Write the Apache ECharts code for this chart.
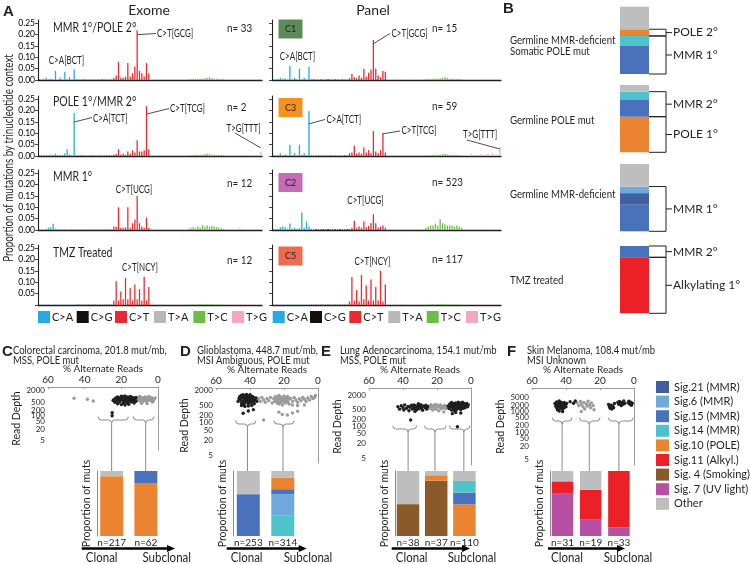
<!DOCTYPE html>
<html><head><meta charset="utf-8">
<script src="https://cdn.jsdelivr.net/npm/echarts@6/dist/echarts.min.js"></script>
<style>html,body{margin:0;padding:0;background:#fff}#c{width:750px;height:564px}</style>
</head><body><div id="c"></div>
<script>
// ---------------- DATA ----------------
const mutTypes = ['C>A','C>G','C>T','T>A','T>C','T>G'];
const bases = ['A','C','G','T'];
// 96 trinucleotide contexts (6 groups x 16)
const exomeMMR1POLE2 = [
 0.003,0.002,0.004,0.010, 0.003,0.005,0.002,0.040, 0.002,0.010,0.003,0.036, 0.003,0.012,0.002,0.046,
 0.001,0.001,0.001,0.002, 0.001,0.001,0.001,0.001, 0.001,0.001,0.001,0.002, 0.001,0.001,0.001,0.001,
 0.010,0.020,0.080,0.010, 0.010,0.015,0.075,0.015, 0.030,0.060,0.220,0.040, 0.030,0.015,0.075,0.030,
 0.002,0.001,0.001,0.002, 0.001,0.001,0.002,0.001, 0.002,0.001,0.001,0.001, 0.001,0.002,0.001,0.002,
 0.003,0.004,0.005,0.004, 0.005,0.006,0.005,0.008, 0.010,0.012,0.008,0.006, 0.005,0.004,0.003,0.003,
 0.001,0.001,0.002,0.001, 0.001,0.002,0.001,0.001, 0.002,0.001,0.001,0.003, 0.001,0.001,0.002,0.003];
const exomePOLE1MMR2 = [
 0.003,0.004,0.002,0.006, 0.003,0.005,0.004,0.010, 0.003,0.006,0.004,0.012, 0.030,0.008,0.004,0.190,
 0.001,0.001,0.002,0.001, 0.001,0.001,0.001,0.002, 0.001,0.001,0.001,0.001, 0.001,0.002,0.001,0.001,
 0.005,0.010,0.030,0.005, 0.010,0.005,0.020,0.010, 0.025,0.015,0.070,0.020, 0.020,0.025,0.220,0.030,
 0.001,0.002,0.001,0.001, 0.002,0.001,0.001,0.001, 0.001,0.002,0.001,0.001, 0.001,0.001,0.002,0.001,
 0.003,0.004,0.003,0.005, 0.004,0.006,0.005,0.008, 0.010,0.008,0.006,0.005, 0.004,0.005,0.003,0.003,
 0.002,0.001,0.003,0.002, 0.001,0.004,0.002,0.003, 0.002,0.006,0.002,0.003, 0.002,0.004,0.003,0.020];
const exomeMMR1 = [
 0.002,0.003,0.002,0.006, 0.010,0.012,0.028,0.005, 0.003,0.004,0.002,0.004, 0.003,0.002,0.003,0.003,
 0.001,0.001,0.001,0.001, 0.001,0.001,0.001,0.001, 0.001,0.001,0.001,0.001, 0.001,0.001,0.001,0.001,
 0.015,0.015,0.100,0.010, 0.010,0.012,0.100,0.010, 0.030,0.045,0.150,0.030, 0.015,0.010,0.055,0.010,
 0.001,0.002,0.001,0.001, 0.002,0.001,0.001,0.002, 0.001,0.001,0.002,0.001, 0.001,0.002,0.001,0.001,
 0.005,0.010,0.012,0.008, 0.015,0.010,0.022,0.015, 0.020,0.015,0.018,0.015, 0.014,0.010,0.008,0.005,
 0.002,0.001,0.002,0.003, 0.002,0.002,0.010,0.002, 0.003,0.002,0.002,0.001, 0.002,0.002,0.001,0.002];
const exomeTMZ = [
 0.001,0.001,0.001,0.001, 0.001,0.001,0.001,0.001, 0.001,0.001,0.001,0.001, 0.001,0.001,0.001,0.001,
 0.001,0.001,0.001,0.001, 0.001,0.001,0.001,0.001, 0.001,0.001,0.001,0.001, 0.001,0.001,0.001,0.001,
 0.020,0.105,0.020,0.060, 0.025,0.120,0.025,0.075, 0.020,0.090,0.025,0.070, 0.020,0.125,0.020,0.080,
 0.001,0.001,0.001,0.001, 0.001,0.001,0.001,0.001, 0.001,0.001,0.001,0.001, 0.001,0.001,0.001,0.001,
 0.002,0.002,0.003,0.002, 0.003,0.003,0.004,0.003, 0.003,0.004,0.003,0.002, 0.002,0.002,0.002,0.001,
 0.001,0.001,0.001,0.001, 0.001,0.001,0.001,0.001, 0.001,0.001,0.001,0.001, 0.001,0.001,0.001,0.001];
const panelC1 = [
 0.003,0.002,0.003,0.010, 0.005,0.008,0.002,0.062, 0.003,0.010,0.002,0.050, 0.003,0.010,0.002,0.058,
 0.001,0.002,0.001,0.001, 0.002,0.001,0.001,0.003, 0.001,0.001,0.002,0.001, 0.001,0.002,0.001,0.001,
 0.008,0.026,0.012,0.008, 0.020,0.010,0.050,0.015, 0.032,0.046,0.177,0.050, 0.020,0.012,0.040,0.036,
 0.001,0.001,0.002,0.001, 0.001,0.001,0.001,0.002, 0.001,0.001,0.001,0.001, 0.002,0.001,0.001,0.001,
 0.003,0.004,0.004,0.005, 0.006,0.005,0.008,0.010, 0.012,0.009,0.007,0.006, 0.005,0.004,0.004,0.003,
 0.002,0.001,0.002,0.002, 0.003,0.002,0.002,0.003, 0.002,0.002,0.003,0.002, 0.002,0.003,0.002,0.004];
const panelC3 = [
 0.003,0.004,0.004,0.012, 0.004,0.006,0.003,0.050, 0.004,0.012,0.003,0.050, 0.006,0.012,0.004,0.198,
 0.001,0.001,0.001,0.002, 0.001,0.001,0.001,0.001, 0.002,0.001,0.001,0.001, 0.001,0.001,0.002,0.001,
 0.012,0.015,0.045,0.010, 0.015,0.010,0.038,0.015, 0.026,0.012,0.110,0.020, 0.012,0.026,0.100,0.015,
 0.001,0.001,0.001,0.001, 0.001,0.002,0.001,0.001, 0.001,0.001,0.001,0.002, 0.001,0.001,0.001,0.001,
 0.003,0.003,0.004,0.005, 0.004,0.006,0.005,0.008, 0.010,0.007,0.006,0.005, 0.004,0.004,0.003,0.003,
 0.003,0.002,0.003,0.010, 0.002,0.003,0.002,0.008, 0.002,0.004,0.010,0.002, 0.012,0.003,0.004,0.038];
const panelC2 = [
 0.004,0.005,0.006,0.012, 0.015,0.012,0.006,0.029, 0.005,0.010,0.006,0.010, 0.077,0.010,0.037,0.015,
 0.002,0.001,0.003,0.002, 0.002,0.003,0.002,0.004, 0.002,0.002,0.003,0.002, 0.003,0.002,0.002,0.003,
 0.005,0.010,0.041,0.008, 0.015,0.010,0.038,0.012, 0.018,0.030,0.070,0.030, 0.010,0.015,0.020,0.010,
 0.002,0.001,0.002,0.002, 0.001,0.002,0.002,0.001, 0.002,0.002,0.001,0.002, 0.002,0.001,0.002,0.002,
 0.010,0.015,0.020,0.020, 0.028,0.020,0.048,0.030, 0.025,0.020,0.020,0.020, 0.015,0.020,0.015,0.010,
 0.002,0.003,0.002,0.004, 0.003,0.005,0.003,0.004, 0.005,0.003,0.004,0.002, 0.003,0.002,0.003,0.002];
const panelC5 = [
 0.001,0.001,0.001,0.001, 0.001,0.001,0.001,0.001, 0.001,0.001,0.001,0.001, 0.001,0.001,0.001,0.001,
 0.001,0.001,0.001,0.001, 0.001,0.001,0.001,0.001, 0.001,0.001,0.001,0.001, 0.001,0.001,0.001,0.001,
 0.015,0.124,0.020,0.066, 0.015,0.132,0.025,0.086, 0.020,0.113,0.020,0.080, 0.020,0.151,0.015,0.091,
 0.001,0.001,0.001,0.001, 0.001,0.001,0.001,0.001, 0.001,0.001,0.001,0.001, 0.001,0.001,0.001,0.001,
 0.001,0.002,0.002,0.003, 0.002,0.003,0.003,0.004, 0.003,0.002,0.003,0.002, 0.002,0.002,0.001,0.001,
 0.001,0.001,0.001,0.001, 0.001,0.001,0.001,0.001, 0.001,0.001,0.001,0.001, 0.001,0.001,0.001,0.001];
const aYTicks = [0, 0.05, 0.10, 0.15, 0.20, 0.25];
const rowTitles = ['MMR 1°/POLE 2°', 'POLE 1°/MMR 2°', 'MMR 1°', 'TMZ Treated'];
const exomeN = ['n= 33', 'n= 2', 'n= 12', 'n= 12'];
const panelN = ['n= 15', 'n= 59', 'n= 523', 'n= 117'];
const clusterNames = ['C1', 'C3', 'C2', 'C5'];

// Panel B (fractions, bottom -> top)
const bBar1 = [['Sig.15 (MMR)',0.416],['Sig.14 (MMR)',0.149],['Sig.10 (POLE)',0.100],['Other',0.335]];
const bBar2 = [['Sig.10 (POLE)',0.529],['Sig.15 (MMR)',0.248],['Sig.14 (MMR)',0.124],['Other',0.099]];
const bBar3 = [['Sig.15 (MMR)',0.395],['Sig.21 (MMR)',0.172],['Sig.6 (MMR)',0.098],['Other',0.335]];
const bBar4 = [['Sig.11 (Alkyl.)',0.832],['Sig.15 (MMR)',0.168]];
const bBrackets1 = [[0,0.565,'MMR 1°'],[0.565,0.665,'POLE 2°']];
const bBrackets2 = [[0,0.529,'POLE 1°'],[0.529,0.901,'MMR 2°']];
const bBrackets3 = [[0,0.665,'MMR 1°']];
const bBrackets4 = [[0,0.832,'Alkylating 1°'],[0.832,1,'MMR 2°']];
const bLabels = [['Germline MMR-deficient','Somatic POLE mut'],['Germline POLE mut'],['Germline MMR-deficient'],['TMZ treated']];

// Panels C-F
const depthTicks = [5,10,20,50,100,200,500,1000,2000];
const depthTicksF = [5,10,20,50,100,200,500,1000,2000,5000];
const cBlack = [[24,700],[23,850],[22.5,600],[22,950],[21.5,750],[21,520],[20.5,880],[20,650],[19.5,1000],[19,780],[19,450],[18.5,560],[18,900],[18,700],[17.5,620],[17,820],[17,480],[16.5,950],[16,700],[16,560],[15.5,800],[15,650],[15,1000],[14.5,520],[14,750],[14,900],[13.5,600],[13,820],[12.5,700],[12,560],[23.5,500],[22,420],[20,380],[18,360],[16,400],[21,700],[19,620],[17,760],[15,880],[20,1050],[18,1080],[22,760],[24.5,620],[13,460],[12,900],[25,145],[25,100]];
const cGray = [[11,700],[10.5,850],[10,600],[9.5,950],[9,750],[8.5,520],[8,880],[8,650],[7.5,780],[7,600],[7,950],[6.5,700],[6,850],[6,550],[5.5,750],[5,650],[5,900],[4.5,800],[4,620],[4,720],[3.5,880],[3,700],[2.5,600],[2,780],[1.5,850],[9,450],[6,430],[3,520],[10,1000],[5,1000],[45.8,808],[38.5,718],[35.3,586]];
const dBlack = [[46,1100],[45.5,800],[45,1250],[45,600],[44.5,950],[44,700],[44,1150],[43.5,520],[43,850],[43,1000],[42.5,650],[42,1200],[42,750],[41.5,900],[41,560],[41,1050],[40.5,700],[40,850],[40,1250],[39.5,620],[39,950],[39,760],[38.5,1100],[38,680],[38,880],[37.5,560],[37,800],[36.5,950],[46.5,900],[47,700],[45,480],[43,440],[41,460],[39,480],[44,1300],[42,1320],[40,1300],[44.5,580],[42.5,960],[40.5,1000],[38,1000],[36,700],[44,234],[41,290],[38,327]];
const dGray = [[26,900],[25.5,700],[25,1100],[24.5,800],[24,600],[24,1000],[23.5,750],[23,1200],[23,550],[22.5,900],[22,650],[22,1050],[21.5,800],[21,500],[21,950],[20.5,700],[20,1150],[20,850],[19.5,600],[19,1000],[19,750],[18.5,900],[18,650],[18,1100],[17.5,800],[17,550],[17,950],[36,800],[35,900],[34,700],[33,1000],[32,800],[31,650],[30,900],[29,750],[28,1000],[27,600],[16,900],[15,700],[14,1000],[13,800],[12,650],[11,900],[10,750],[9,1000],[8,850],[7,700],[6,950],[5,800],[4,1100],[3,900],[2,1000],[1.5,1200],[15,500],[12,480],[8,500],[23,260],[21,210],[18,200],[15,240],[12,280],[32,126]];
const eBlack = [[43,650],[42,520],[41,720],[40,600],[39.5,480],[39,780],[38,560],[37,680],[36.5,450],[36,620],[35,750],[34.5,520],[34,640],[33.5,780],[33,560],[32.5,700],[32,480],[31.5,620],[31,740],[30.5,540],[30,660],[29.5,800],[29,580],[28.5,470],[28,700],[27,600],[26.5,760],[26,520],[25.5,650],[33,420],[31,880],[35.5,185],
 [13.5,700],[13,550],[12.5,850],[12,650],[11.5,980],[11.5,480],[11,760],[10.5,600],[10.5,900],[10,700],[10,450],[9.5,820],[9.5,560],[9,950],[9,650],[8.5,750],[8.5,500],[8,880],[8,620],[7.5,720],[7.5,1000],[7,560],[7,820],[6.5,680],[6.5,950],[6,500],[6,760],[5.5,880],[5.5,620],[5,720],[5,1000],[4.5,560],[4.5,820],[4,680],[4,900],[3.5,600],[3,760],[2.5,900],[2,650],[1.6,800],[9,380],[6,360],[11,340],[8,98]];
const eGray = [[24.5,700],[24,550],[23.5,800],[23,650],[22.5,480],[22,720],[21.5,600],[21,820],[20.5,520],[20,680],[19.5,760],[19,450],[18.5,620],[18,780],[17.5,540],[17,690],[16.5,600],[16,400],[15.5,740],[15,560],[14.5,650]];
const fBlack = [[46.5,2400],[46,1800],[45.5,2900],[45.5,1500],[45,2200],[45,1200],[44.5,2600],[44.5,1700],[44,2000],[44,3200],[43.5,1400],[43.5,2400],[43,1800],[43,2800],[42.5,1600],[42.5,2200],[42,1300],[42,2500],[41.5,1900],[41,1500],[41,2700],[40.5,2100],[40,1700],[39.6,2400],[44,1050],[42,1000],[37.6,2965],[35.6,2500],[34.5,3200],
 [15,2200],[14.5,1700],[14,1400],[13.5,2000],[13,1300],[12.5,1800],[12,1500],[11.5,2400],[9.5,2800],[9,2200],[8.5,3000],[8,2500],[7.5,1900],[7,2700],[6.5,2200],[6,3200],[5.5,2400],[3.5,2600],[3,3100],[2.5,2200],[2,2800],[1.5,2000],[1,2500]];
const fGray = [[33.5,2600],[32.5,1900],[31.5,3000],[31,2200],[30,1700],[29.5,2700],[29,1300],[28,2300],[27.5,1800],[27,3100],[26,2100],[25.5,1500],[25,2600],[24,1900],[23.5,1200],[31,1000]];
// cluster brackets: [start alt%, end alt%, tip alt%]
const cBraces = [[32.6,16.2,25.3],[13.5,2.2,6.7]];
const dBraces = [[48.4,36.5,41.5],[25.9,14,20.6]];
const eBraces = [[46,32,37],[27.3,14.7,21.2],[12.7,0.6,4.2]];
const fBraces = [[48,36.5,42.3],[32,20,26.3],[15,0.6,8.9]];
const cCats = ['n=217','n=62'];
const cBars = [[['Sig.10 (POLE)',0.92],['Other',0.08]],[['Sig.10 (POLE)',0.815],['Sig.15 (MMR)',0.185]]];
const dCats = ['n=253','n=314'];
const dBars = [[['Sig.15 (MMR)',0.643],['Other',0.357]],[['Sig.14 (MMR)',0.32],['Sig.6 (MMR)',0.323],['Sig.15 (MMR)',0.077],['Sig.10 (POLE)',0.18],['Other',0.10]]];
const eCats = ['n=38','n=37','n=110'];
const eBars = [[['Sig. 4 (Smoking)',0.49],['Other',0.51]],[['Sig. 4 (Smoking)',0.85],['Sig.10 (POLE)',0.085],['Other',0.065]],[['Sig.10 (POLE)',0.487],['Sig.15 (MMR)',0.18],['Sig.14 (MMR)',0.18],['Other',0.153]]];
const fCats = ['n=31','n=19','n=33'];
const fBars = [[['Sig. 7 (UV light)',0.65],['Sig.11 (Alkyl.)',0.19],['Other',0.16]],[['Sig. 7 (UV light)',0.26],['Sig.11 (Alkyl.)',0.45],['Other',0.29]],[['Sig. 7 (UV light)',0.13],['Sig.11 (Alkyl.)',0.87]]];
const sigNames = ['Sig.21 (MMR)','Sig.6 (MMR)','Sig.15 (MMR)','Sig.14 (MMR)','Sig.10 (POLE)','Sig.11 (Alkyl.)','Sig. 4 (Smoking)','Sig. 7 (UV light)','Other'];
const titlesCF = [
  ['C','Colorectal carcinoma, 201.8 mut/mb,','MSS, POLE mut'],
  ['D','Glioblastoma, 448.7 mut/mb,','MSI Ambiguous, POLE mut'],
  ['E','Lung Adenocarcinoma, 154.1 mut/mb','MSS, POLE mut'],
  ['F','Skin Melanoma, 108.4 mut/mb','MSI Unknown']];

// ---------------- STYLE / LAYOUT ----------------
const F = 'Lato, "Open Sans", "DejaVu Sans", sans-serif';
const INK = '#231f20';
const AXG = '#9a9a9a';
const mutColors = ['#27aae1','#111111','#ea2a30','#b8b8b8','#6cbd47','#f4a8c0'];
const sigColor = {'Sig.21 (MMR)':'#3f5f9f','Sig.6 (MMR)':'#6ea8dc','Sig.15 (MMR)':'#4a71bb','Sig.14 (MMR)':'#4ec3cb','Sig.10 (POLE)':'#ea8430','Sig.11 (Alkyl.)':'#ec2027','Sig. 4 (Smoking)':'#8b5a2b','Sig. 7 (UV light)':'#b74fa3','Other':'#bebebe'};
const clusterColors = ['#5d8a59','#f5921e','#c46cb6','#ef6b4f'];
const PX = 228;                       // px per unit proportion in panel A
const rowY25 = [23, 99, 173, 248];    // y pixel of 0.25 tick per row
const colsA = [{left:38, width:224}, {left:272, width:229}];
const legendAX = [[38, 76.7, 115, 154, 193.3, 232], [272.7, 310, 349.3, 388.3, 426.7, 466]];

const contexts = [];
mutTypes.forEach(m => bases.forEach(a => bases.forEach(b => contexts.push(a + '[' + m + ']' + b))));

const grids = [], xAxes = [], yAxes = [], series = [], graphics = [];
function addGrid(g, xa, ya) { const i = grids.length; grids.push(g); xa.gridIndex = i; ya.gridIndex = i; xAxes.push(xa); yAxes.push(ya); return i; }
function txt(x, y, text, o) {
  o = o || {};
  return {type:'text', x:x, y:y, rotation:o.rot || 0, scaleX:o.sx || 1, silent:true, z:20,
    style:{text:text, fill:o.color || INK, fontSize:o.size || 10, fontFamily:o.font || F, fontWeight:o.weight || 'normal', align:o.align || 'left', verticalAlign:'middle'}};
}

// leader lines (from bar top in data coords to label in px)
const annots = [
  {c:0, r:0, m:'C>T', from:[42,0.20], to:[156,33.5]},
  {c:1, r:0, m:'C>T', from:[42,0.16], to:[390,33.5]},
  {c:0, r:1, m:'C>A', from:[15,0.15], to:[92,117.5]},
  {c:0, r:1, m:'C>T', from:[46,0.185], to:[169,108.5]},
  {c:0, r:1, m:'T>G', from:[95,0.036], to:[235,133]},
  {c:1, r:1, m:'C>A', from:[15,0.142], to:[325,119.5]},
  {c:1, r:1, m:'C>T', from:[46,0.098], to:[400,131]},
  {c:1, r:1, m:'T>G', from:[95,0.031], to:[467,140]}
];
const annotTexts = [
  [66.5,60.7,'C>A[BCT]','center'],[157,33.3,'C>T[GCG]','left'],
  [297.5,56.7,'C>A[BCT]','center'],[391.5,33.3,'C>T[GCG]','left'],
  [93,118.3,'C>A[TCT]','left'],[170,108.3,'C>T[TCG]','left'],[226.5,128.3,'T>G[TTT]','left'],
  [326.5,120,'C>A[TCT]','left'],[401.5,131,'C>T[TCG]','left'],[463,135,'T>G[TTT]','left'],
  [134,189.3,'C>T[UCG]','center'],[365.5,200.7,'C>T[UCG]','center'],
  [140,267.3,'C>T[NCY]','center'],[372.5,261.7,'C>T[NCY]','center']
];

// ---------------- PANEL A ----------------
[[exomeMMR1POLE2, exomePOLE1MMR2, exomeMMR1, exomeTMZ], [panelC1, panelC3, panelC2, panelC5]].forEach((set, c) => {
  const col = colsA[c];
  set.forEach((vals, r) => {
    const gi = addGrid({left:col.left, top:rowY25[r] - 3, width:col.width, height:0.25 * PX + 3},
      {type:'category', data:contexts, axisLine:{show:true, lineStyle:{color:INK, width:1.3}}, axisTick:{show:false}, axisLabel:{show:false}, splitLine:{show:false}},
      {type:'value', min:0, max:0.265, axisLine:{show:true, lineStyle:{color:INK, width:1.1}},
       axisTick:{show:true, length:3, customValues:aYTicks, lineStyle:{color:INK, width:0.8}},
       axisLabel:{show:c === 0, customValues:(r === 3 ? aYTicks.slice(1) : aYTicks), hideOverlap:false,
         showMinLabel:true, showMaxLabel:true,
         formatter:v => Number(v).toFixed(2), fontSize:8.5, margin:3, color:'#000', fontFamily:F},
       splitLine:{show:false}, z:50});
    mutTypes.forEach((m, k) => {
      const s = {type:'bar', name:m, xAxisIndex:gi, yAxisIndex:gi, barWidth:'55%', barGap:'-100%', silent:true,
        itemStyle:{color:mutColors[k]}, data:vals.map((v, i) => Math.floor(i / 16) === k ? v : '-')};
      const ml = annots.filter(a => a.c === c && a.r === r && a.m === m);
      if (ml.length) {
        s.markLine = {silent:true, symbol:['none','none'], animation:false, label:{show:false},
          lineStyle:{color:INK, width:0.8, type:'solid'}, emphasis:{disabled:true},
          data:ml.map(a => [{coord:a.from}, {x:a.to[0], y:a.to[1]}])};
      }
      series.push(s);
    });
    if (c === 0) {
      graphics.push(txt(53, [28,101.7,176.7,253.3][r], rowTitles[r], {size:12.5, sx:0.84}));
      graphics.push(txt(227, [28,106.7,183,260][r], exomeN[r], {size:12, sx:0.82}));
    } else {
      const bt = [19.5,98,173,246.5][r];
      graphics.push({type:'rect', silent:true, z:15, shape:{x:278.5, y:bt, width:24, height:19}, style:{fill:clusterColors[r]}});
      graphics.push(txt(290.5, bt + 9.5, clusterNames[r], {size:10, align:'center', sx:0.9}));
      graphics.push(txt(432, [28,106,181.7,259][r], panelN[r], {size:12, sx:0.82}));
    }
  });
});
annotTexts.forEach(a => graphics.push(txt(a[0], a[1], a[2], {size:10.5, align:a[3], sx:0.76})));
graphics.push(txt(3, 12, 'A', {size:15, weight:'bold', font:'"Liberation Sans", Arial, sans-serif'}));
graphics.push(txt(149, 10, 'Exome', {size:14, align:'center'}));
graphics.push(txt(373, 10, 'Panel', {size:14, align:'center'}));
graphics.push(txt(9, 158, 'Proportion of mutations by trinucleotide context', {size:12.5, align:'center', rot:Math.PI / 2, sx:0.78}));

// ---------------- PANEL B ----------------
function stackBars(gi, bars, stackId, barWidth) {
  bars.forEach((segs, i) => {
    segs.forEach(seg => {
      series.push({type:'bar', name:seg[0], stack:stackId, xAxisIndex:gi, yAxisIndex:gi, barWidth:barWidth, silent:true,
        itemStyle:{color:sigColor[seg[0]]}, data:bars.map((_, k) => k === i ? seg[1] : '-')});
    });
  });
}
const bTops = [6.7, 85, 164, 246];
[[bBar1, bBrackets1], [bBar2, bBrackets2], [bBar3, bBrackets3], [bBar4, bBrackets4]].forEach((pair, j) => {
  const gi = addGrid({left:620, top:bTops[j], width:29, height:67.3},
    {type:'category', data:['x'], show:false},
    {type:'value', min:0, max:1, show:false});
  stackBars(gi, [pair[0]], 'B' + j, '100%');
  const brackets = pair[1];
  series.push({type:'custom', xAxisIndex:gi, yAxisIndex:gi, silent:true, clip:false, z:5,
    data:brackets.map(b => [0, b[0], b[1]]),
    renderItem:function (params, api) {
      const cs = params.coordSys;
      const yb = api.coord([0, api.value(1)])[1], yt = api.coord([0, api.value(2)])[1];
      const xr = cs.x + cs.width, ym = (yb + yt) / 2;
      return {type:'group', children:[
        {type:'polyline', shape:{points:[[xr, yt], [xr + 17, yt], [xr + 17, yb], [xr, yb]]}, style:{stroke:INK, fill:null, lineWidth:1}},
        {type:'line', shape:{x1:xr + 17, y1:ym, x2:xr + 23, y2:ym}, style:{stroke:INK, lineWidth:1}},
        {type:'text', x:xr + 24, y:ym, style:{text:brackets[params.dataIndex][2], fontSize:12, fontFamily:F, fill:INK, align:'left', verticalAlign:'middle'}}
      ]};
    }});
});
graphics.push(txt(503, 9, 'B', {size:15, weight:'bold', font:'"Liberation Sans", Arial, sans-serif'}));
const bLabelY = [[40.5, 51.8], [121], [195], [281]];
bLabels.forEach((ls, j) => ls.forEach((l, k) => graphics.push(txt(510, bLabelY[j][k], l, {size:10.5, sx:0.92}))));

// ---------------- PANELS C-F ----------------
const cfLayout = [
  {sg:{left:48, top:387, width:110, height:63}, ymin:1.69, ymax:3109, ticks:depthTicks, rdGap:24,
   black:cBlack, gray:cGray, braces:cBraces, braceY:420,
   bg:{left:94.6, top:471, width:68.4, height:65}, off:-2.4, bw:23, cats:cCats, bars:cBars,
   title:{lx:2, tx:13}, arrow:[81.7,175], clonal:101.7, sub:166.7},
  {sg:{left:216, top:388, width:102, height:75}, ymin:2.39, ymax:2404, ticks:depthTicks, rdGap:18,
   black:dBlack, gray:dGray, braces:dBraces, braceY:424,
   bg:{left:231.05, top:471, width:69, height:65}, off:-2.25, bw:23, cats:dCats, bars:dBars,
   title:{lx:180, tx:197}, arrow:[226.7,306.7], clonal:246.7, sub:308},
  {sg:{left:369, top:388, width:102, height:77}, ymin:2.57, ymax:3892, ticks:depthTicks, rdGap:24,
   black:eBlack, gray:eGray, braces:eBraces, braceY:429,
   bg:{left:393.9, top:471, width:84.6, height:65}, off:-1.1, bw:22.5, cats:eCats, bars:eBars,
   title:{lx:321, tx:340}, arrow:[391.7,470], clonal:411.7, sub:472},
  {sg:{left:532, top:388, width:102, height:77}, ymin:2.56, ymax:13600, ticks:depthTicksF, rdGap:25,
   black:fBlack, gray:fGray, braces:fBraces, braceY:421,
   bg:{left:548.4, top:471, width:84.6, height:65}, off:-1.6, bw:21.5, cats:fCats, bars:fBars,
   title:{lx:507, tx:527}, arrow:[548,625], clonal:567, sub:628}
];
cfLayout.forEach((L, p) => {
  const si = addGrid(L.sg,
    {type:'value', position:'top', min:0, max:60, interval:20, inverse:true,
     axisLine:{show:true, lineStyle:{color:AXG, width:1}}, axisTick:{show:true, inside:true, length:2, lineStyle:{color:AXG}},
     axisLabel:{fontSize:10, margin:2, color:INK, fontFamily:F, showMinLabel:true, showMaxLabel:true, hideOverlap:false}, splitLine:{show:false},
     name:'% Alternate Reads', nameLocation:'middle', nameGap:11, nameTextStyle:{fontSize:10, color:INK, fontFamily:F}},
    {type:'log', min:L.ymin, max:L.ymax,
     axisLine:{show:true, lineStyle:{color:AXG, width:1}}, axisTick:{show:false}, minorTick:{show:false}, splitLine:{show:false},
     axisLabel:{customValues:L.ticks, showMinLabel:true, showMaxLabel:true, hideOverlap:false,
       formatter:v => String(Math.round(v)), fontSize:8, margin:3, color:INK, fontFamily:F, lineHeight:8},
     name:'Read Depth', nameLocation:'middle', nameGap:L.rdGap, nameTextStyle:{fontSize:10.5, color:INK, fontFamily:F}});
  series.push({type:'scatter', xAxisIndex:si, yAxisIndex:si, data:L.gray, symbolSize:3.4, silent:true, itemStyle:{color:'#9b9b9b', opacity:1}});
  series.push({type:'scatter', xAxisIndex:si, yAxisIndex:si, data:L.black, symbolSize:3.4, silent:true, itemStyle:{color:'#1e1e1e', opacity:1}});
  const ym = L.braceY, barTop = L.bg.top;
  series.push({type:'custom', xAxisIndex:si, yAxisIndex:si, silent:true, clip:false, z:4,
    data:L.braces,
    renderItem:function (params, api) {
      const xa = api.coord([api.value(0), 100])[0];
      const xb = api.coord([api.value(1), 100])[0];
      const xt = api.coord([api.value(2), 100])[0];
      const h = 3.5, r = 3, y0 = ym - h, y1 = ym + h;
      const d = 'M' + xa + ',' + y0 + ' Q' + xa + ',' + ym + ' ' + (xa + r) + ',' + ym + ' L' + (xt - r) + ',' + ym +
        ' Q' + xt + ',' + ym + ' ' + xt + ',' + y1 + ' Q' + xt + ',' + ym + ' ' + (xt + r) + ',' + ym +
        ' L' + (xb - r) + ',' + ym + ' Q' + xb + ',' + ym + ' ' + xb + ',' + y0;
      return {type:'group', children:[
        {type:'path', shape:{pathData:d}, style:{fill:null, stroke:'#8a8a8a', lineWidth:1}},
        {type:'line', shape:{x1:xt, y1:y1, x2:xt, y2:barTop}, style:{stroke:'#8a8a8a', lineWidth:1}}
      ]};
    }});
  const bi = addGrid(L.bg,
    {type:'category', data:L.cats, axisLine:{show:false}, axisTick:{show:false},
     axisLabel:{fontSize:10, margin:2, color:INK, fontFamily:F, interval:0}},
    {type:'value', min:0, max:1, offset:L.off, axisLine:{show:true, lineStyle:{color:'#8a8a8a', width:1}}, axisTick:{show:false},
     axisLabel:{show:false}, splitLine:{show:false},
     name:'Proportion of muts', nameLocation:'middle', nameGap:5, nameTextStyle:{fontSize:10.5, color:INK, fontFamily:F}});
  stackBars(bi, L.bars, 'S' + p, L.bw);
  const t = titlesCF[p];
  graphics.push(txt(L.title.lx, 352, t[0], {size:15, weight:'bold', font:'"Liberation Sans", Arial, sans-serif'}));
  graphics.push(txt(L.title.tx, 350.5, t[1], {size:10.5, sx:0.9}));
  graphics.push(txt(L.title.tx, 360.5, t[2], {size:10.5, sx:0.9}));
  const a0 = L.arrow[0], a1 = L.arrow[1], ay = 548.5;
  graphics.push({type:'line', silent:true, shape:{x1:a0, y1:ay, x2:a1 - 6, y2:ay}, style:{stroke:'#000', lineWidth:2.4}});
  graphics.push({type:'polygon', silent:true, shape:{points:[[a1, ay], [a1 - 8, ay - 3.6], [a1 - 8, ay + 3.6]]}, style:{fill:'#000'}});
  graphics.push(txt(L.clonal, 558, 'Clonal', {size:12.5, align:'center', sx:0.92}));
  graphics.push(txt(L.sub, 558, 'Subclonal', {size:12.5, align:'center', sx:0.92}));
});

// ---------------- OPTION ----------------
const legends = [];
legendAX.forEach(xs => xs.forEach((x, k) => legends.push({
  data:[{name:mutTypes[k], icon:'rect'}], left:x, top:311, itemWidth:12, itemHeight:12, itemGap:0, padding:0, selectedMode:false,
  textStyle:{fontSize:11, color:INK, fontFamily:F, padding:[0, 0, 0, -3]}})));
legends.push({data:sigNames.map(n => ({name:n, icon:'rect'})), orient:'vertical', left:656, top:381, itemWidth:13, itemHeight:12,
  itemGap:2.6, padding:0, selectedMode:false, textStyle:{fontSize:11, color:INK, fontFamily:F, lineHeight:12}});
const option = {
  animation:false,
  textStyle:{fontFamily:F},
  grid:grids, xAxis:xAxes, yAxis:yAxes, series:series,
  legend:legends,
  graphic:graphics
};
const chart = echarts.init(document.getElementById('c'), null, {renderer:'canvas'});
chart.setOption(option);
</script></body></html>
